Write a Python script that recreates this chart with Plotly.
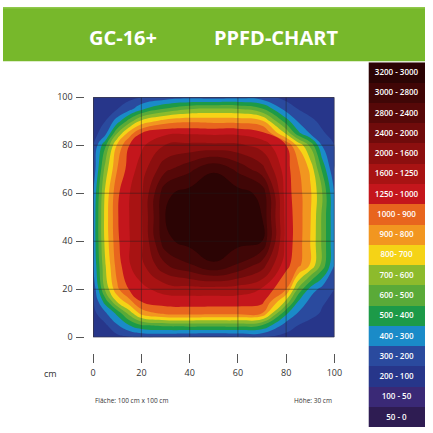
import numpy as np
import plotly.graph_objects as go

# ---------------- data ----------------
x_cm = [0, 5, 10, 15, 20, 30, 40, 50, 60, 70, 80, 85, 90, 95, 100]
y_cm = [0, 5, 10, 15, 20, 30, 40, 50, 60, 70, 80, 85, 90, 95, 100]

ppfd_y0 = [120, 140, 170, 190, 200, 200, 190, 180, 190, 200, 170, 150, 140, 130, 120]
ppfd_y5 = [140, 180, 290, 400, 490, 530, 540, 540, 540, 500, 250, 200, 170, 150, 140]
ppfd_y10 = [170, 280, 430, 640, 840, 930, 940, 930, 930, 900, 420, 290, 230, 190, 170]
ppfd_y15 = [190, 450, 720, 870, 1020, 1120, 1130, 1130, 1130, 1080, 680, 400, 270, 210, 180]
ppfd_y20 = [220, 620, 880, 1020, 1180, 1400, 1450, 1450, 1420, 1230, 900, 580, 360, 260, 200]
ppfd_y30 = [300, 690, 950, 1230, 1500, 2350, 2750, 2980, 2750, 2200, 1080, 930, 790, 560, 300]
ppfd_y40 = [320, 730, 980, 1240, 1520, 2950, 3080, 3120, 3080, 3000, 1150, 950, 800, 580, 320]
ppfd_y50 = [320, 740, 990, 1250, 1550, 3010, 3100, 3130, 3100, 3000, 1150, 950, 810, 580, 320]
ppfd_y60 = [300, 720, 980, 1240, 1530, 2960, 3080, 3120, 3080, 2950, 1120, 940, 820, 600, 300]
ppfd_y70 = [220, 640, 900, 1120, 1420, 2300, 2700, 2980, 2700, 2150, 1100, 920, 780, 480, 200]
ppfd_y80 = [200, 480, 820, 1000, 1200, 1620, 1700, 1700, 1680, 1450, 1000, 780, 580, 290, 200]
ppfd_y85 = [160, 260, 600, 850, 1000, 1200, 1220, 1200, 1200, 1080, 680, 430, 290, 210, 170]
ppfd_y90 = [150, 200, 350, 550, 730, 850, 880, 870, 870, 820, 450, 290, 220, 180, 150]
ppfd_y95 = [130, 160, 200, 270, 380, 520, 600, 620, 610, 520, 260, 200, 170, 150, 130]
ppfd_y100 = [120, 130, 150, 170, 200, 240, 260, 250, 260, 240, 170, 150, 140, 130, 120]

level_bounds = [0, 50, 100, 200, 300, 400, 500, 600, 700, 800, 900, 1000,
                1250, 1600, 2000, 2400, 2800, 3000, 3200]
level_labels = ["50 - 0", "100 - 50", "200 - 100", "300 - 200", "400 - 300",
                "500 - 400", "600 - 500", "700 - 600", "800- 700", "900 - 800",
                "1000 - 900", "1250 - 1000", "1600 - 1250", "2000 - 1600",
                "2400 - 2000", "2800 - 2400", "3000 - 2800", "3200 - 3000"]
level_colors = ["#2e1c52", "#3a2976", "#27368a", "#2a4a9e", "#1a8bc8",
                "#1c9a48", "#5aaa38", "#8dbb2c", "#f5d316", "#f29620",
                "#e8651e", "#c4161c", "#a81313", "#8c0f0f", "#700b0b",
                "#560808", "#400606", "#2b0404"]

tick_vals = [0, 20, 40, 60, 80, 100]

# ---------------- build ----------------
W = H = 433
ppfd = np.array([ppfd_y0, ppfd_y5, ppfd_y10, ppfd_y15, ppfd_y20, ppfd_y30,
                 ppfd_y40, ppfd_y50, ppfd_y60, ppfd_y70, ppfd_y80, ppfd_y85,
                 ppfd_y90, ppfd_y95, ppfd_y100], dtype=float)
# map PPFD onto band index (the legend classes are not evenly spaced)
band_index = np.interp(ppfd, level_bounds, np.arange(len(level_bounds)))

n = len(level_colors)
cscale = [[k / (n - 1), c] for k, c in enumerate(level_colors)]

fig = go.Figure()

fig.add_trace(go.Contour(
    x=x_cm, y=y_cm, z=band_index,
    autocontour=False,
    contours=dict(start=1, end=n - 1, size=1, coloring="fill", showlines=False),
    line=dict(width=0, smoothing=1.3),
    colorscale=cscale, showscale=False, hoverinfo="skip",
    xaxis="x", yaxis="y",
))

# legend column drawn as a one-column heatmap
fig.add_trace(go.Heatmap(
    z=[[k] for k in range(n)], x=[0], y=list(range(n)),
    text=[[lab] for lab in level_labels], texttemplate="%{text}",
    textfont=dict(color="white", size=8, family="Open Sans", weight=600),
    colorscale=cscale, zmin=0, zmax=n - 1, showscale=False, hoverinfo="skip",
    xaxis="x2", yaxis="y2",
))

px_l, px_r, px_t, px_b = 92.5, 340.0, 93.0, 340.5
axis_font = dict(family="Open Sans", size=9, color="#333333")

fig.update_layout(
    width=W, height=H, margin=dict(l=0, r=0, t=0, b=0),
    paper_bgcolor="white", plot_bgcolor="white", showlegend=False,
    xaxis=dict(domain=[px_l / W, px_r / W], range=[0, 100], anchor="free",
               position=(H - 357) / H, showgrid=False, zeroline=False,
               showline=False, ticks="outside", ticklen=9, tickwidth=1,
               tickcolor="#555555", tickvals=tick_vals, tickfont=axis_font,
               ticklabelstandoff=2),
    yaxis=dict(domain=[(H - px_b) / H, (H - px_t) / H], range=[0, 100],
               anchor="free", position=83.5 / W, showgrid=False,
               zeroline=False, showline=False, ticks="outside", ticklen=8,
               tickwidth=1, tickcolor="#555555", tickvals=tick_vals,
               tickfont=axis_font, ticklabelstandoff=2),
    xaxis2=dict(domain=[375 / W, 1], range=[-0.5, 0.5], visible=False,
                anchor="y2"),
    yaxis2=dict(domain=[0, (H - 57) / H], range=[-0.5, n - 0.5],
                visible=False, anchor="x2"),
)

shapes = []
shapes.append(dict(type="rect", xref="paper", yref="paper", x0=0, x1=1,
                   y0=(H - 56) / H, y1=1, fillcolor="#77b82b", line_width=0,
                   layer="above"))
shapes.append(dict(type="rect", xref="paper", yref="paper", x0=0, x1=1,
                   y0=(H - 1.5) / H, y1=1, fillcolor="#8fc84a", line_width=0,
                   layer="above"))
for v in tick_vals[1:-1]:
    shapes.append(dict(type="line", xref="x", yref="y", x0=v, x1=v, y0=0,
                       y1=100, line=dict(color="rgba(30,30,30,0.55)", width=0.8),
                       layer="above"))
    shapes.append(dict(type="line", xref="x", yref="y", x0=0, x1=100, y0=v,
                       y1=v, line=dict(color="rgba(30,30,30,0.55)", width=0.8),
                       layer="above"))
shapes.append(dict(type="rect", xref="x", yref="y", x0=0, x1=100, y0=0, y1=100,
                   line=dict(color="#333333", width=1), layer="above"))
fig.update_layout(shapes=shapes)

ann = []
title_font = dict(family="Open Sans", size=20, color="white", weight="bold")
ann.append(dict(text="GC-16+", xref="paper", yref="paper", x=123 / W,
                y=(H - 31) / H, showarrow=False, font=title_font,
                xanchor="center", yanchor="middle"))
ann.append(dict(text="PPFD-CHART", xref="paper", yref="paper", x=280 / W,
                y=(H - 31) / H, showarrow=False, font=title_font,
                xanchor="center", yanchor="middle"))
ann.append(dict(text="cm", xref="paper", yref="paper", x=49 / W,
                y=(H - 378) / H, showarrow=False, font=axis_font,
                xanchor="center", yanchor="middle"))
small = dict(family="Open Sans", size=6.5, color="#333333")
ann.append(dict(text="Fläche: 100 cm x 100 cm", xref="paper", yref="paper",
                x=px_l / W, y=(H - 406) / H, showarrow=False, font=small,
                xanchor="left", yanchor="middle"))
ann.append(dict(text="Höhe: 30 cm", xref="paper", yref="paper",
                x=px_r / W, y=(H - 406) / H, showarrow=False, font=small,
                xanchor="right", yanchor="middle"))
fig.update_layout(annotations=ann)

# remove the default page margin so the 433x433 figure fills the window exactly
post = (
    "var gd=document.getElementById('{plot_id}');"
    "document.documentElement.style.margin='0';"
    "document.documentElement.style.overflow='hidden';"
    "document.body.style.margin='0';document.body.style.overflow='hidden';"
    "gd.style.position='fixed';gd.style.left='0px';gd.style.top='0px';"
)
fig.write_html("out.html", config={"displayModeBar": False}, post_script=post)
